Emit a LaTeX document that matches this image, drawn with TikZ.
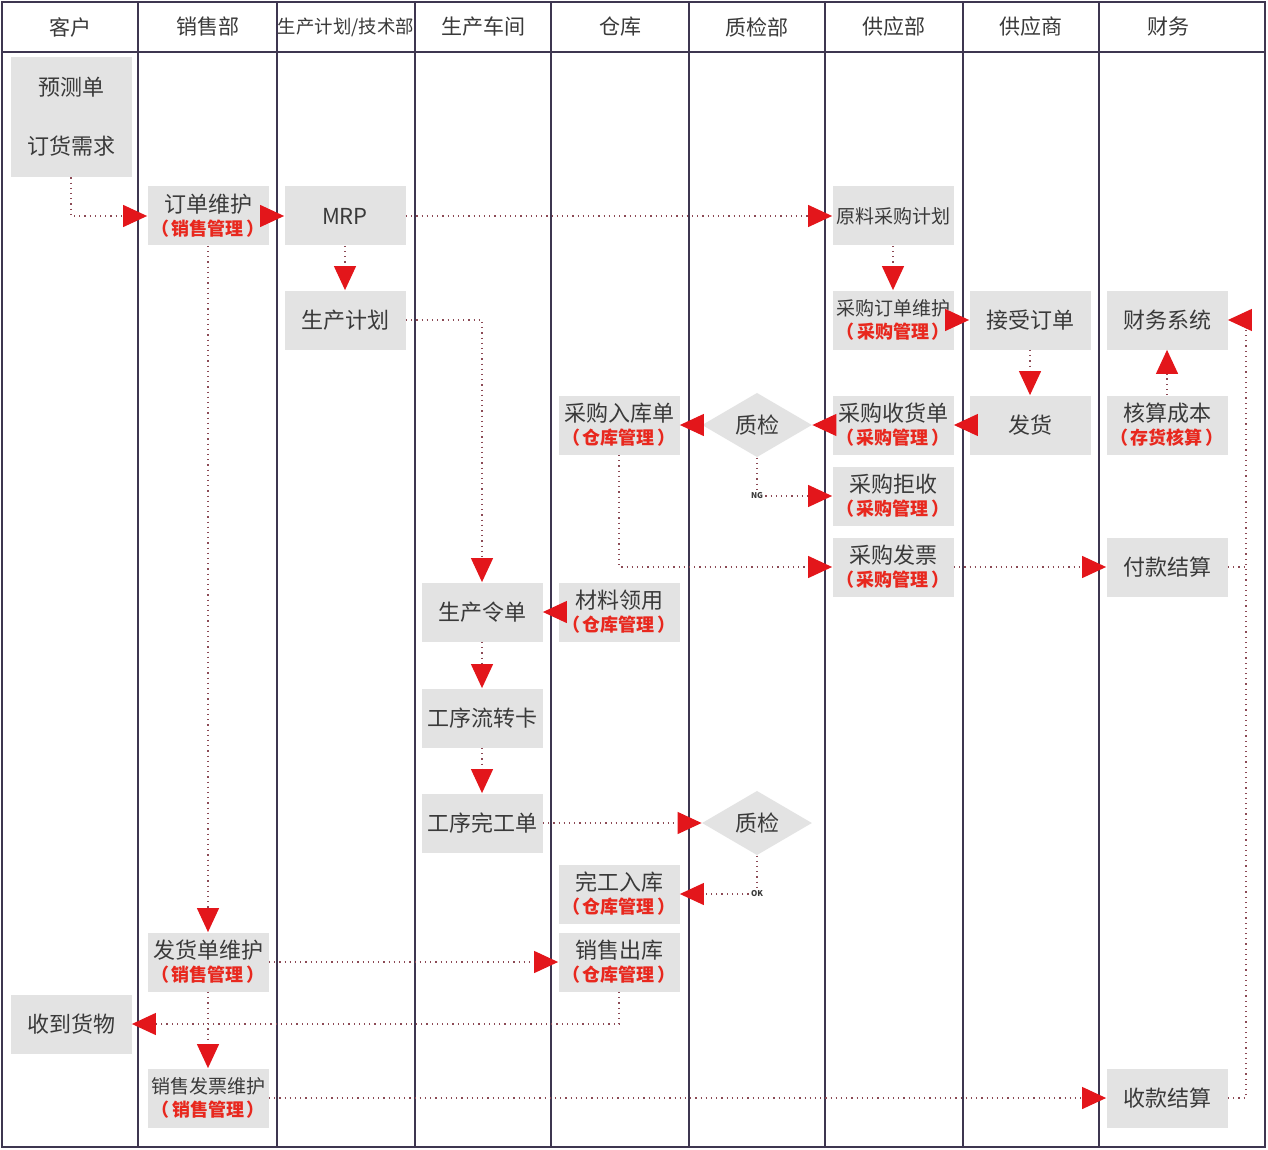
\documentclass[tikz,border=0pt]{standalone}
\usepackage{fontspec}
\setmainfont{Noto Sans CJK SC}
\usetikzlibrary{arrows.meta,shapes.geometric}
\definecolor{boxgray}{HTML}{E3E3E3}
\definecolor{txtgray}{HTML}{3A3A3A}
\definecolor{redtxt}{HTML}{E8281E}
\definecolor{arrred}{HTML}{E3161B}
\definecolor{linecol}{HTML}{8C4A55}
\definecolor{gridcol}{HTML}{3E3650}
\newcommand\subt[1]{\\[-1pt]{\color{redtxt}\bfseries\fontsize{9}{10}\selectfont （\hspace{0.12em}#1\hspace{0.12em}）}}
\begin{document}
\begin{tikzpicture}[x=0.5pt,y=-0.5pt,
  box/.style={fill=boxgray, minimum width=60.5pt, minimum height=29.5pt, inner sep=0.5pt,
    text=txtgray, font=\fontsize{11}{12.5}\selectfont, align=center},
  wide/.style={font=\fontsize{9.5}{12.5}\selectfont},
  dia/.style={diamond, fill=boxgray, minimum width=55pt, minimum height=23pt, inner sep=0pt,
    text=txtgray, font=\fontsize{11}{12}\selectfont},
  flow/.style={draw=linecol, dotted, line width=0.6pt, -{Triangle[length=12pt,width=11pt,color=arrred]}},
  link/.style={draw=linecol, dotted, line width=0.6pt},
  hdr/.style={text=txtgray, font=\fontsize{10.5}{12}\selectfont},
  tag/.style={fill=white, inner sep=0.5pt, text=txtgray, font=\fontsize{4}{4}\selectfont\bfseries},
  grid/.style={draw=gridcol, line width=1pt}
]
\useasboundingbox (0,0) rectangle (1268,1150);
\fill[white] (0,0) rectangle (1268,1150);
% table
\draw[grid] (2,2) rectangle (1265,1147);
\draw[grid] (2,52) -- (1265,52);
\foreach \x in {138,277,415,551,689,825,963,1099} \draw[grid] (\x,2) -- (\x,1147);
% headers
\node[hdr] (h1) at (70,27) {客户};
\node[hdr] (h2) at (208,27) {销售部};
\node[hdr, font=\fontsize{9.2}{12}\selectfont] (h3) at (346,27) {生产计划/技术部};
\node[hdr] (h4) at (483,27) {生产车间};
\node[hdr] (h5) at (620,27) {仓库};
\node[hdr] (h6) at (757,27) {质检部};
\node[hdr] (h7) at (894,27) {供应部};
\node[hdr] (h8) at (1031,27) {供应商};
\node[hdr] (h9) at (1168,27) {财务};
% nodes
\node[box, minimum height=60pt] (fc) at (71,117) {预测单\\[17pt]订货需求};
\node[box] (om) at (208,216) {订单维护\subt{销售管理}};
\node[box] (mrp) at (345,216) {MRP};
\node[box] (pp) at (345,320) {生产计划};
\node[box, wide] (rpp) at (893,216) {原料采购计划};
\node[box, wide] (pom) at (893,320) {采购订单维护\subt{采购管理}};
\node[box] (acc) at (1030,320) {接受订单};
\node[box] (fs) at (1167,320) {财务系统};
\node[box] (pin) at (619,425) {采购入库单\subt{仓库管理}};
\node[dia] (qc1) at (757,425) {质检};
\node[box] (prc) at (893,425) {采购收货单\subt{采购管理}};
\node[box] (shp) at (1030,425) {发货};
\node[box] (cost) at (1167,425) {核算成本\subt{存货核算}};
\node[box] (rej) at (893,496) {采购拒收\subt{采购管理}};
\node[box] (pinv) at (893,567) {采购发票\subt{采购管理}};
\node[box] (pay) at (1167,567) {付款结算};
\node[box] (po) at (482,612) {生产令单};
\node[box] (mat) at (619,612) {材料领用\subt{仓库管理}};
\node[box] (card) at (482,718) {工序流转卡};
\node[box] (done) at (482,823) {工序完工单};
\node[dia] (qc2) at (757,823) {质检};
\node[box] (fin) at (619,894) {完工入库\subt{仓库管理}};
\node[box] (dm) at (208,962) {发货单维护\subt{销售管理}};
\node[box] (so) at (619,962) {销售出库\subt{仓库管理}};
\node[box] (rcv) at (71,1024) {收到货物};
\node[box, wide] (sim) at (208,1098) {销售发票维护\subt{销售管理}};
\node[box] (rc) at (1167,1098) {收款结算};
\coordinate (rr) at (1246,1098);
% connectors
\draw[flow] (fc.south) |- (om.west);
\draw[flow] (om.east) -- (mrp.west);
\draw[flow] (mrp.east) -- (rpp.west);
\draw[flow] (mrp.south) -- (pp.north);
\draw[flow] (rpp.south) -- (pom.north);
\draw[flow] (pom.east) -- (acc.west);
\draw[flow] (acc.south) -- (shp.north);
\draw[flow] (shp.west) -- (prc.east);
\draw[flow] (prc.west) -- (qc1.east);
\draw[flow] (qc1.west) -- (pin.east);
\draw[flow] (qc1.south) |- node[tag, pos=0.5] {NG} (rej.west);
\draw[flow] (pin.south) |- (pinv.west);
\draw[flow] (pinv.east) -- (pay.west);
\draw[flow] (cost.north) -- (fs.south);
\draw[link] (pay.east) -- (pay.east -| rr);
\draw[flow] (rc.east) -- (rr) |- (fs.east);
\draw[flow] (pp.east) -| (po.north);
\draw[flow] (mat.west) -- (po.east);
\draw[flow] (po.south) -- (card.north);
\draw[flow] (card.south) -- (done.north);
\draw[flow] (done.east) -- (qc2.west);
\draw[flow] (qc2.south) |- node[tag, pos=0.5] {OK} (fin.east);
\draw[flow] (om.south) -- (dm.north);
\draw[flow] (dm.east) -- (so.west);
\draw[flow] (so.south) |- (rcv.east);
\draw[flow] (dm.south) -- (sim.north);
\draw[flow] (sim.east) -- (rc.west);
\end{tikzpicture}
\end{document}
